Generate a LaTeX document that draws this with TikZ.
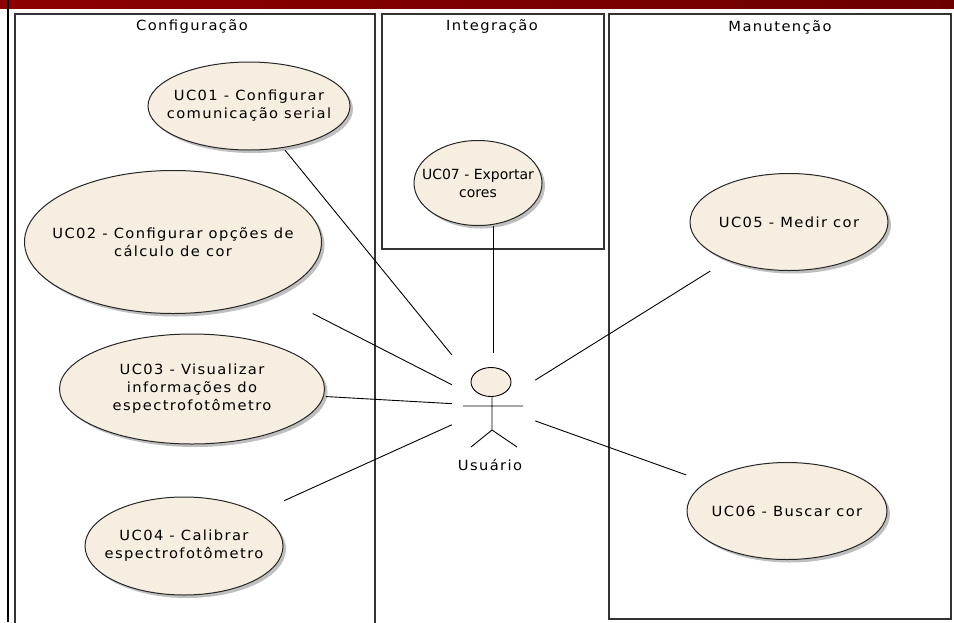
\documentclass[tikz,border=0pt]{standalone}
\usepackage{fontspec}
\setmainfont{DejaVu Sans}
\newfontfamily\ucfont[LetterSpace=10, FakeStretch=1.05]{DejaVu Sans}
\newfontfamily\ucfontnarrow{DejaVu Sans}
\usepackage{tikz}
\usetikzlibrary{shapes.geometric, shadows, positioning}
\definecolor{colorUseCase}{RGB}{246,238,224}
\definecolor{colorBarLeft}{RGB}{142,0,0}
\definecolor{colorBarRight}{RGB}{108,0,0}
\colorlet{colorFrame}{black!80}

\begin{document}
\begin{tikzpicture}[x=1pt, y=-1pt,
  every node/.style={font=\ucfont\fontsize{14}{18}\selectfont},
  every label/.style={align=center},
  usecase/.style={ellipse, draw=black!85, line width=1pt, fill=colorUseCase, inner sep=0pt,
    drop shadow={shadow xshift=3pt, shadow yshift=-3pt, fill=black, opacity=0.25}},
  boundary/.style={draw=colorFrame, line width=1.5pt},
  assoc/.style={black, line width=0.9pt},
  stick/.style={black, line width=0.9pt}]
\useasboundingbox (0,0) rectangle (954,622);
\clip (0,0) rectangle (954,622);
% title bar and frame
\shade[left color=colorBarLeft, right color=colorBarRight] (0,0) rectangle (954,8);
\draw[line width=2.2pt] (8,0) -- (8,622);

% system boundaries
\draw[boundary] (15,14) rectangle (375,640);
\draw[boundary] (382,14) rectangle (604,249);
\draw[boundary] (609,14) rectangle (951,619);
\node (cfg) at (192,27) {Configuração};
\node (int) at (492,27) {Integração};
\node (man) at (780,27) {Manutenção};

% actor
\node[minimum width=83pt, minimum height=106pt, inner sep=0pt] (user) at (493.5,406) {};
\begin{scope}[shift={(user.center)}]
\draw[stick, fill=colorUseCase] (-2.5,-24) ellipse [x radius=20, y radius=14.5];
\draw[stick] (-1.5,-9.5) -- (-1.5,24) (-30.5,0) -- (29.5,0)
  (-22.5,41) -- (-1.5,24) -- (23.5,41);
\node (username) at (-3.5,59) {Usuário};
\end{scope}

% use cases
\node[usecase, minimum width=202pt, minimum height=88pt,
  label={center:UC01 - Configurar\\comunicação serial}] (uc01) at (249,106) {};
\node[usecase, minimum width=297pt, minimum height=143pt,
  label={center:UC02 - Configurar opções de\\cálculo de cor}] (uc02) at (173,242) {};
\node[usecase, minimum width=265pt, minimum height=110pt,
  label={center:UC03 - Visualizar\\informações do\\espectrofotômetro}] (uc03) at (192,389) {};
\node[usecase, minimum width=198pt, minimum height=98pt,
  label={center:UC04 - Calibrar\\espectrofotômetro}] (uc04) at (184,546) {};
\node[usecase, minimum width=198pt, minimum height=97pt,
  label={center:UC05 - Medir cor}] (uc05) at (789,222) {};
\node[usecase, minimum width=200pt, minimum height=97pt,
  label={center:UC06 - Buscar cor}] (uc06) at (787,511) {};
\node[usecase, minimum width=128pt, minimum height=85pt,
  label={[font=\ucfontnarrow\fontsize{14}{18}\selectfont]center:UC07 - Exportar\\cores}] (uc07) at (478,183) {};

% associations
\draw[assoc, shorten <=3pt] (uc01) -- (user);
\draw[assoc, shorten <=42pt] (uc02) -- (user);
\draw[assoc, shorten <=2pt] (uc03) -- (user);
\draw[assoc, shorten <=29pt] (uc04) -- (user);
\draw[assoc, shorten <=20pt] (uc05) -- (user);
\draw[assoc, shorten <=21pt] (uc06) -- (user);
\draw[assoc] (uc07.south -| user.north) -- (user.north);
\end{tikzpicture}
\end{document}
